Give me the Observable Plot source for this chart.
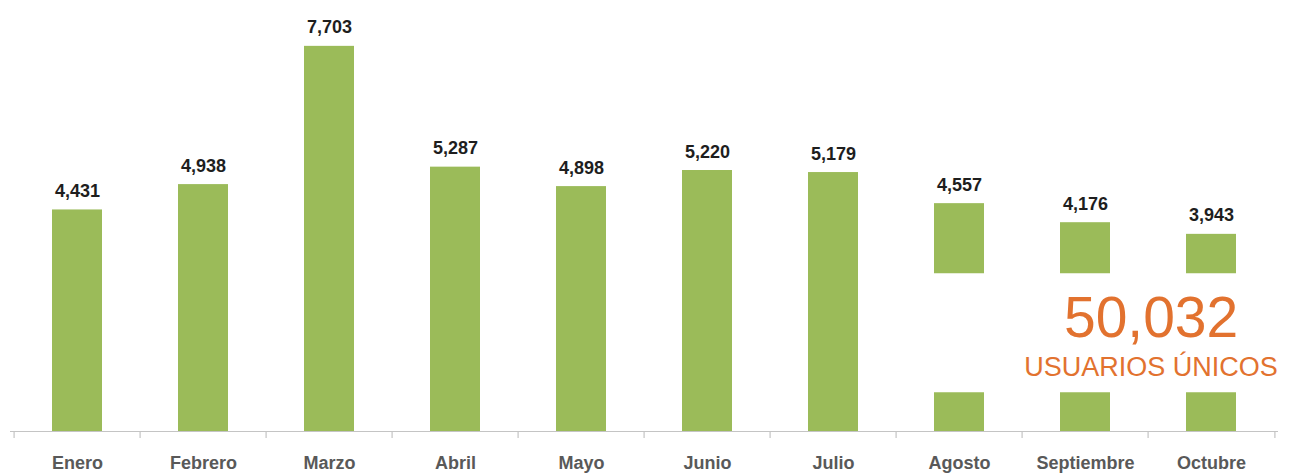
<!DOCTYPE html>
<html>
<head>
<meta charset="utf-8">
<script src="https://cdn.jsdelivr.net/npm/d3@7"></script>
<script src="https://cdn.jsdelivr.net/npm/@observablehq/plot@0.6"></script>
<style>
  html, body { margin: 0; padding: 0; background: #fff; }
  #chart svg { display: block; }
</style>
</head>
<body>
<div id="chart"></div>
<script>
const months = ["Enero", "Febrero", "Marzo", "Abril", "Mayo", "Junio", "Julio", "Agosto", "Septiembre", "Octubre"];
const users = [4431, 4938, 7703, 5287, 4898, 5220, 5179, 4557, 4176, 3943];
const gapMonths = ["Agosto", "Septiembre", "Octubre"];
const gapRange = [775, 3155];
const totalLabel = "50,032";
const totalCaption = "USUARIOS ÚNICOS";
const totalAnchorMonth = "Octubre";
const totalY = 1900;
const captionY = 1120;

const data = months.map((m, i) => ({month: m, value: users[i]}));

const W = 1293, H = 473;
const mL = 10, mR = 15, mT = 31, mB = 42;
const step = (W - mL - mR) / months.length;
const font = "'Liberation Sans', Arial, sans-serif";
const fmt = d3.format(",");

const plot = Plot.plot({
  width: W,
  height: H,
  marginTop: mT,
  marginBottom: mB,
  marginLeft: mL,
  marginRight: mR,
  style: {fontFamily: font, background: "#fff"},
  x: {type: "band", domain: months, paddingInner: 0.6, paddingOuter: 0.3, axis: null},
  y: {domain: [0, 8000], axis: null},
  marks: [
    Plot.barY(data, {x: "month", y: "value", fill: "#9bbb59"}),
    Plot.barY(gapMonths, {x: d => d, y1: gapRange[0], y2: gapRange[1], fill: "#fff", insetLeft: -1, insetRight: -1}),
    Plot.ruleY([0], {stroke: "#c4c4c4", strokeWidth: 1.2}),
    Plot.ruleX(months, {x: d => d, dx: -step / 2, y1: 0, y2: -140, stroke: "#c4c4c4", strokeWidth: 1.2}),
    Plot.ruleX(months.slice(-1), {x: d => d, dx: step / 2, y1: 0, y2: -140, stroke: "#c4c4c4", strokeWidth: 1.2}),
    Plot.text(data, {x: "month", y: "value", text: d => fmt(d.value), lineAnchor: "bottom", dy: -13,
      fontSize: 18, fontWeight: "bold", fill: "#1e1e1e", letterSpacing: "0.6px"}),
    Plot.text(months, {x: d => d, y: 0, text: d => d, lineAnchor: "top", dy: 25,
      fontSize: 18, fontWeight: "bold", fill: "#595959", letterSpacing: "1px"}),
    Plot.text([totalLabel], {x: () => totalAnchorMonth, y: () => totalY, text: d => d, dx: -step / 2 + 3,
      lineAnchor: "bottom", fontSize: 57, fill: "#e2722f"}),
    Plot.text([totalCaption], {x: () => totalAnchorMonth, y: () => captionY, text: d => d, dx: -step / 2 + 3,
      lineAnchor: "bottom", fontSize: 27, fill: "#e2722f", letterSpacing: "0.3px"})
  ]
});
document.getElementById("chart").appendChild(plot);
</script>
</body>
</html>
